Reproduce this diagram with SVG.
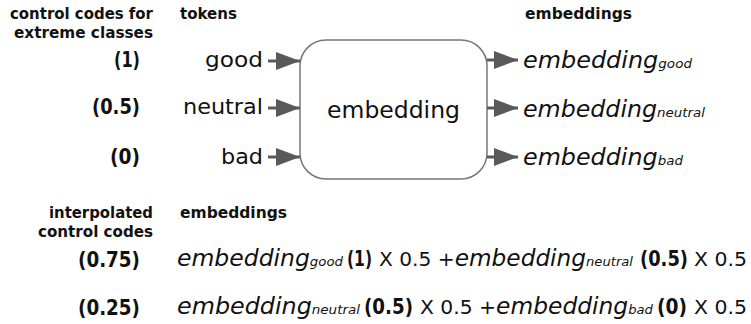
<svg xmlns="http://www.w3.org/2000/svg" width="751" height="324" viewBox="0 0 751 324">
  <style>
    text { font-family: "DejaVu Sans", "Liberation Sans", sans-serif; fill: #111; }
    .hdr { font-size: 15px; font-weight: bold; }
    .code { font-size: 21px; font-weight: bold; }
    .tok { font-size: 21px; }
    .emb { font-size: 23px; font-style: italic; }
    .sub { font-size: 13px; font-style: italic; }
    .reg { font-size: 20px; }
    .shaft { stroke: #595959; stroke-width: 3; fill: none; }
    .box { fill: #fff; stroke: #777; stroke-width: 1.5; }
  </style>
  <defs>
    <marker id="head" viewBox="0 0 8 6" refX="8" refY="3" markerWidth="8" markerHeight="6" markerUnits="strokeWidth" orient="auto">
      <path d="M0,0 L8,3 L0,6 Z" fill="#595959"/>
    </marker>
  </defs>

  <!-- column headers -->
  <g id="headers">
    <text class="hdr" x="153" y="19" text-anchor="end" textLength="143" lengthAdjust="spacingAndGlyphs">control codes for</text>
    <text class="hdr" x="153" y="38" text-anchor="end" textLength="139" lengthAdjust="spacingAndGlyphs">extreme classes</text>
    <text class="hdr" x="180" y="19" textLength="57" lengthAdjust="spacingAndGlyphs">tokens</text>
    <text class="hdr" x="525" y="19" textLength="107" lengthAdjust="spacingAndGlyphs">embeddings</text>
  </g>

  <!-- control codes -->
  <g id="codes">
    <text class="code" x="140" y="67" text-anchor="end" textLength="26" lengthAdjust="spacingAndGlyphs">(1)</text>
    <text class="code" x="140" y="114" text-anchor="end" textLength="48" lengthAdjust="spacingAndGlyphs">(0.5)</text>
    <text class="code" x="140" y="164" text-anchor="end" textLength="30" lengthAdjust="spacingAndGlyphs">(0)</text>
  </g>

  <!-- input tokens -->
  <g id="tok-good"><text class="tok" x="263" y="67" text-anchor="end" textLength="58" lengthAdjust="spacingAndGlyphs">good</text></g>
  <g id="tok-neutral"><text class="tok" x="263" y="114" text-anchor="end" textLength="80" lengthAdjust="spacingAndGlyphs">neutral</text></g>
  <g id="tok-bad"><text class="tok" x="263" y="164" text-anchor="end" textLength="42" lengthAdjust="spacingAndGlyphs">bad</text></g>

  <!-- embedding layer -->
  <g id="embedding-layer">
    <rect class="box" x="300" y="40" width="187" height="139" rx="26" ry="26"/>
    <text x="393.5" y="118" font-size="23.5" text-anchor="middle">embedding</text>
  </g>

  <!-- connectors -->
  <g id="connectors">
    <line class="shaft" x1="268" y1="61" x2="300" y2="61" marker-end="url(#head)"/>
    <line class="shaft" x1="268" y1="108" x2="300" y2="108" marker-end="url(#head)"/>
    <line class="shaft" x1="268" y1="157" x2="300" y2="157" marker-end="url(#head)"/>
    <line class="shaft" x1="487" y1="60" x2="518" y2="60" marker-end="url(#head)"/>
    <line class="shaft" x1="487" y1="108" x2="518" y2="108" marker-end="url(#head)"/>
    <line class="shaft" x1="487" y1="157" x2="518" y2="157" marker-end="url(#head)"/>
  </g>

  <!-- output embeddings -->
  <g id="out-good">
    <text x="523" y="68" textLength="169" lengthAdjust="spacingAndGlyphs"><tspan class="emb" font-size="24">embedding</tspan><tspan class="sub">good</tspan></text>
  </g>
  <g id="out-neutral">
    <text x="523" y="117" textLength="182" lengthAdjust="spacingAndGlyphs"><tspan class="emb" font-size="24">embedding</tspan><tspan class="sub">neutral</tspan></text>
  </g>
  <g id="out-bad">
    <text x="523" y="165" textLength="160" lengthAdjust="spacingAndGlyphs"><tspan class="emb" font-size="24">embedding</tspan><tspan class="sub">bad</tspan></text>
  </g>

  <!-- interpolation -->
  <g id="interp-headers">
    <text class="hdr" x="153" y="218" text-anchor="end" textLength="104" lengthAdjust="spacingAndGlyphs">interpolated</text>
    <text class="hdr" x="153" y="237" text-anchor="end" textLength="115" lengthAdjust="spacingAndGlyphs">control codes</text>
    <text class="hdr" x="180" y="218" textLength="107" lengthAdjust="spacingAndGlyphs">embeddings</text>
  </g>

  <g id="interp-075">
    <text class="code" x="140" y="267" text-anchor="end" textLength="62" lengthAdjust="spacingAndGlyphs">(0.75)</text>
    <text x="177" y="266" textLength="166" lengthAdjust="spacingAndGlyphs"><tspan class="emb" font-size="22">embedding</tspan><tspan class="sub" font-size="14">good</tspan></text>
    <text class="code" x="347" y="266" textLength="25" lengthAdjust="spacingAndGlyphs">(1)</text>
    <text x="379" y="266" textLength="254" lengthAdjust="spacingAndGlyphs"><tspan class="reg">X 0.5 +</tspan><tspan class="emb" font-size="22">embedding</tspan><tspan class="sub">neutral</tspan></text>
    <text class="code" x="640" y="266" textLength="48" lengthAdjust="spacingAndGlyphs">(0.5)</text>
    <text class="reg" x="694" y="266" textLength="53" lengthAdjust="spacingAndGlyphs">X 0.5</text>
  </g>

  <g id="interp-025">
    <text class="code" x="140" y="315" text-anchor="end" textLength="62" lengthAdjust="spacingAndGlyphs">(0.25)</text>
    <text x="177" y="314" textLength="183" lengthAdjust="spacingAndGlyphs"><tspan class="emb" font-size="22">embedding</tspan><tspan class="sub" font-size="14">neutral</tspan></text>
    <text class="code" x="364" y="314" textLength="49" lengthAdjust="spacingAndGlyphs">(0.5)</text>
    <text x="420" y="314" textLength="233" lengthAdjust="spacingAndGlyphs"><tspan class="reg">X 0.5 +</tspan><tspan class="emb" font-size="22">embedding</tspan><tspan class="sub">bad</tspan></text>
    <text class="code" x="657" y="314" textLength="30" lengthAdjust="spacingAndGlyphs">(0)</text>
    <text class="reg" x="694" y="314" textLength="53" lengthAdjust="spacingAndGlyphs">X 0.5</text>
  </g>
</svg>
